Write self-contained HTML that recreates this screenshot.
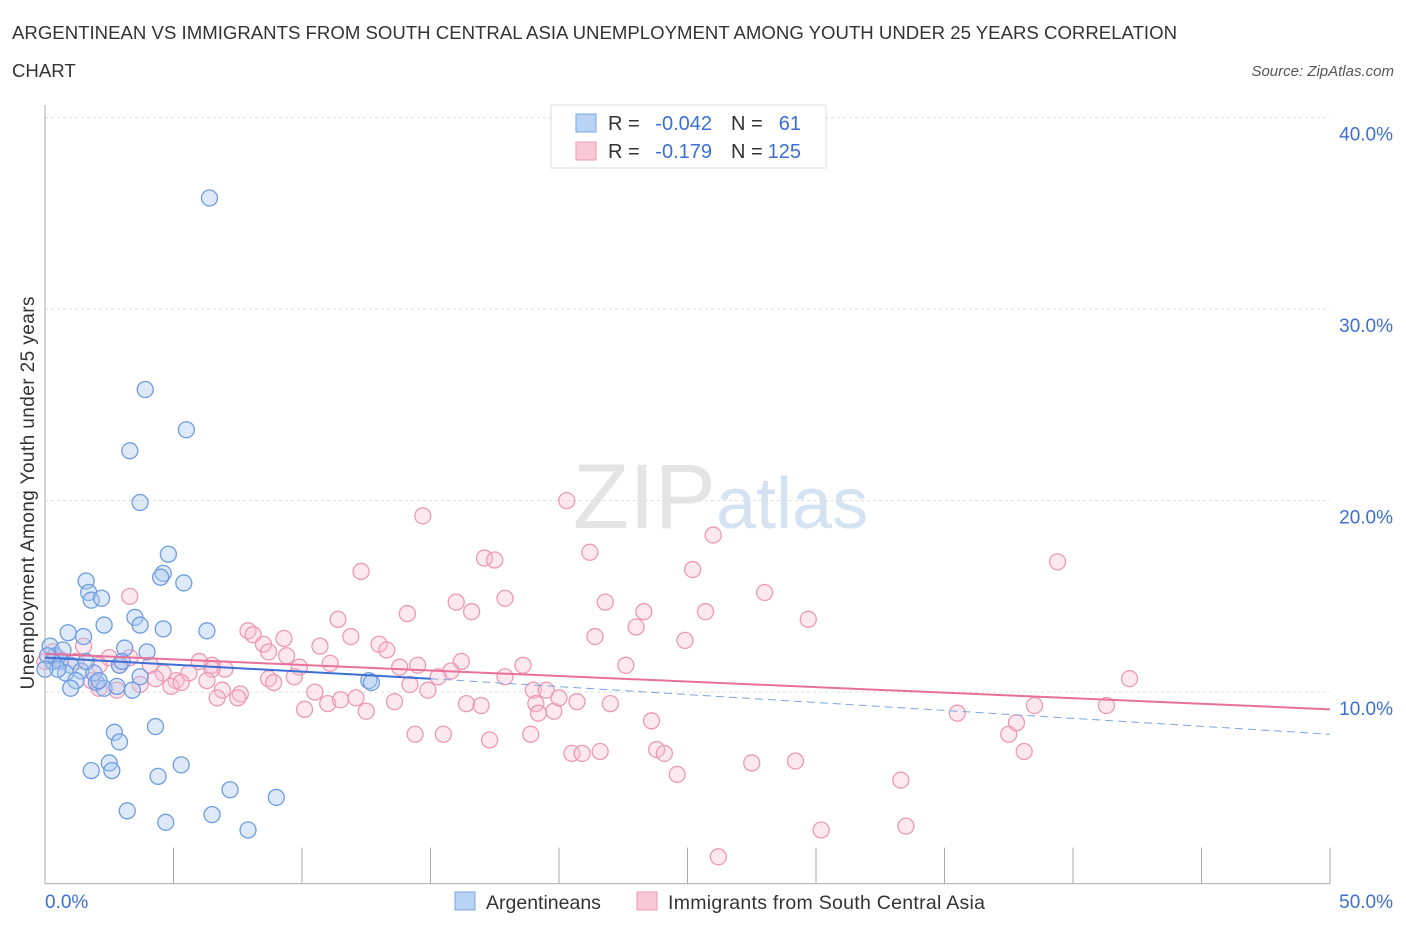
<!DOCTYPE html>
<html><head><meta charset="utf-8"><style>
body{margin:0;background:#fff;font-family:"Liberation Sans",sans-serif;}
svg text{font-family:"Liberation Sans",sans-serif;}
</style></head><body>
<svg id="chart" width="1406" height="930">
<text x="12" y="39" font-size="18.6" fill="#333" textLength="1165">ARGENTINEAN VS IMMIGRANTS FROM SOUTH CENTRAL ASIA UNEMPLOYMENT AMONG YOUTH UNDER 25 YEARS CORRELATION</text>
<text x="12" y="77" font-size="18.6" fill="#333">CHART</text>
<text x="1394" y="76" font-size="15" fill="#555" font-style="italic" text-anchor="end">Source: ZipAtlas.com</text>
<text x="716" y="528" font-size="92" fill="#e4e4e4" font-family="Liberation Serif" text-anchor="end">ZIP</text>
<text x="716" y="528" font-size="72" fill="#d4e2f2">atlas</text>
<g id="grid"></g>
<g id="marks"></g>
<text transform="translate(34,493) rotate(-90)" font-size="19" fill="#333" text-anchor="middle" textLength="393">Unemployment Among Youth under 25 years</text>
<g>
<rect x="551" y="105" width="275" height="63" fill="#fff" stroke="#ddd"/>
<rect x="576" y="114" width="20" height="18" fill="#b8d3f3" stroke="#7aa6e0"/>
<rect x="576" y="142" width="20" height="18" fill="#f9c8d6" stroke="#ee99b3"/>
<text x="608" y="130" font-size="20" fill="#333">R =</text>
<text x="712" y="130" font-size="20" fill="#3b6fd4" text-anchor="end">-0.042</text>
<text x="731" y="130" font-size="20" fill="#333">N =</text>
<text x="801" y="130" font-size="20" fill="#3b6fd4" text-anchor="end">61</text>
<text x="608" y="158" font-size="20" fill="#333">R =</text>
<text x="712" y="158" font-size="20" fill="#3b6fd4" text-anchor="end">-0.179</text>
<text x="731" y="158" font-size="20" fill="#333">N =</text>
<text x="801" y="158" font-size="20" fill="#3b6fd4" text-anchor="end">125</text>
</g>
<g>
<rect x="455" y="892" width="20" height="18" fill="#b8d3f3" stroke="#7aa6e0"/>
<text x="486" y="909" font-size="19.5" fill="#333">Argentineans</text>
<rect x="637" y="892" width="20" height="18" fill="#f9c8d6" stroke="#ee99b3"/>
<text x="668" y="909" font-size="19.5" fill="#333" textLength="317">Immigrants from South Central Asia</text>
</g>
</svg>
<script>
const yTicks=[10,20,30,40];
const xTickLabels=["0.0%","50.0%"];
const blueX=[6.4,3.9,5.5,3.3,3.7,4.8,4.6,4.5,5.4,1.6,1.7,1.8,2.2,3.5,3.7,4.6,6.3,2.3,0.9,1.5,3.1,3.970,0.2,0.4,0.6,1.0,1.4,0.8,1.2,2.0,2.3,2.8,3.4,2.9,1.0,1.9,12.6,12.7,2.7,2.9,4.3,2.5,2.6,1.8,4.4,5.3,7.2,9.0,3.2,6.5,4.7,7.9,0.3,0.5,0.1,0.7,2.1,1.6,3.0,3.7,0.0];
const blueY=[35.8,25.8,23.7,22.6,19.9,17.2,16.2,16.0,15.7,15.8,15.2,14.8,14.9,13.9,13.5,13.3,13.2,13.5,13.1,12.9,12.3,12.1,12.4,11.9,11.6,11.4,11.1,11.0,10.6,10.5,10.2,10.3,10.1,11.4,10.2,11.0,10.6,10.5,7.9,7.4,8.2,6.3,5.9,5.9,5.6,6.2,4.9,4.5,3.8,3.6,3.2,2.8,11.6,11.2,11.9,12.2,10.6,11.6,11.6,10.8,11.2];
const pinkX=[3.3,6.5,12.3,14.7,17.1,17.5,20.3,21.2,26.0,25.2,28.0,39.4,17.9,21.8,23.3,25.7,29.7,16.0,16.6,14.1,11.4,7.9,8.1,9.3,8.5,21.4,23.0,24.9,11.9,10.7,13.0,13.3,16.2,15.8,18.6,22.6,14.5,13.8,11.1,9.4,8.7,9.9,8.7,7.0,6.5,6.0,5.6,5.1,4.6,4.1,3.3,2.9,2.5,2.1,1.5,1.2,0.6,0.3,0.0,1.8,2.1,2.8,3.7,4.3,4.9,5.3,6.3,6.9,7.6,7.5,6.7,8.9,9.7,10.5,10.1,11.0,11.5,12.1,12.5,13.6,14.2,14.9,15.3,17.9,19.0,19.5,19.1,19.8,20.0,20.7,22.0,19.2,16.4,16.97,14.4,15.5,17.3,18.9,20.5,20.9,21.6,23.6,23.8,24.1,24.6,27.5,29.2,26.2,30.2,33.3,33.5,35.5,37.5,37.8,38.1,42.2,41.3,38.5];
const pinkY=[15.0,11.4,16.3,19.2,17.0,16.9,20.0,17.3,18.2,16.4,15.2,16.8,14.9,14.7,14.2,14.2,13.8,14.7,14.2,14.1,13.8,13.2,13.0,12.8,12.5,12.9,13.4,12.7,12.9,12.4,12.5,12.2,11.6,11.1,11.4,11.4,11.4,11.3,11.5,11.9,12.1,11.3,10.7,11.2,11.2,11.6,11.0,10.6,11.0,11.4,11.8,11.4,11.8,11.4,12.4,11.6,11.7,12.1,11.6,10.6,10.2,10.1,10.4,10.7,10.3,10.5,10.6,10.1,9.9,9.7,9.7,10.5,10.8,10.0,9.1,9.4,9.6,9.7,9.0,9.5,10.4,10.1,10.8,10.8,10.1,10.1,9.4,9.0,9.7,9.5,9.4,8.9,9.4,9.3,7.8,7.8,7.5,7.8,6.8,6.8,6.9,8.5,7.0,6.8,5.7,6.3,6.4,1.4,2.8,5.4,3.0,8.9,7.8,8.4,6.9,10.7,9.3,9.3];
const X0=45,X1=1330,Y0=883.6,PPY=19.15;
const sx=v=>X0+(X1-X0)*v/50, sy=v=>Y0-v*PPY;
const NS="http://www.w3.org/2000/svg";
const grid=document.getElementById('grid'), marks=document.getElementById('marks');
function mk(tag,attrs,parent){const e=document.createElementNS(NS,tag);for(const k in attrs)e.setAttribute(k,attrs[k]);parent.appendChild(e);return e;}
yTicks.forEach(t=>{
 const l=mk('line',{x1:X0,x2:X1,y1:sy(t),y2:sy(t),stroke:'#ddd','stroke-dasharray':'3,3'},grid);
 
 
 const tx=mk('text',{x:1393,y:sy(t)+23,'font-size':19,fill:'#3b6fd4','text-anchor':'end'},grid);
 tx.textContent=t.toFixed(1)+'%';
 
 
});
const ax=mk('line',{x1:X0,x2:X0,y1:105,y2:Y0,stroke:'#aaa'},grid);


const bx=mk('line',{x1:X0,x2:X1,y1:Y0,y2:Y0,stroke:'#aaa'},grid);


for(let i=0;i<=10;i++){const t=mk('line',{x1:sx(i*5),x2:sx(i*5),y1:Y0,y2:Y0-36,stroke:'#aaa'},grid);
 
 }
[[0,'start',45],[50,'end',1393]].forEach((a,i)=>{const t=mk('text',{x:a[2],y:908,'font-size':19,fill:'#3b6fd4','text-anchor':a[1]},grid);t.textContent=xTickLabels[i];
 
 });
pinkX.forEach((x,i)=>{const c=mk('circle',{cx:sx(x),cy:sy(pinkY[i]),r:8,fill:'rgba(248,190,208,0.35)',stroke:'#ee99b3','stroke-width':1.3},marks);
 
 });
blueX.forEach((x,i)=>{const c=mk('circle',{cx:sx(x),cy:sy(blueY[i]),r:8,fill:'rgba(170,200,240,0.4)',stroke:'#6d9ce0','stroke-width':1.3},marks);
 
 });
const bl=mk('line',{x1:sx(0),y1:sy(11.8),x2:sx(15),y2:sy(10.7),stroke:'#3b6fd4','stroke-width':2},marks);


const bd=mk('line',{x1:sx(15),y1:sy(10.7),x2:sx(50),y2:sy(7.8),stroke:'#7aa6e0','stroke-width':1,'stroke-dasharray':'8,5'},marks);


const pl=mk('line',{x1:sx(0),y1:sy(12.0),x2:sx(50),y2:sy(9.1),stroke:'#e8709a','stroke-width':2},marks);


</script>
</body></html>
